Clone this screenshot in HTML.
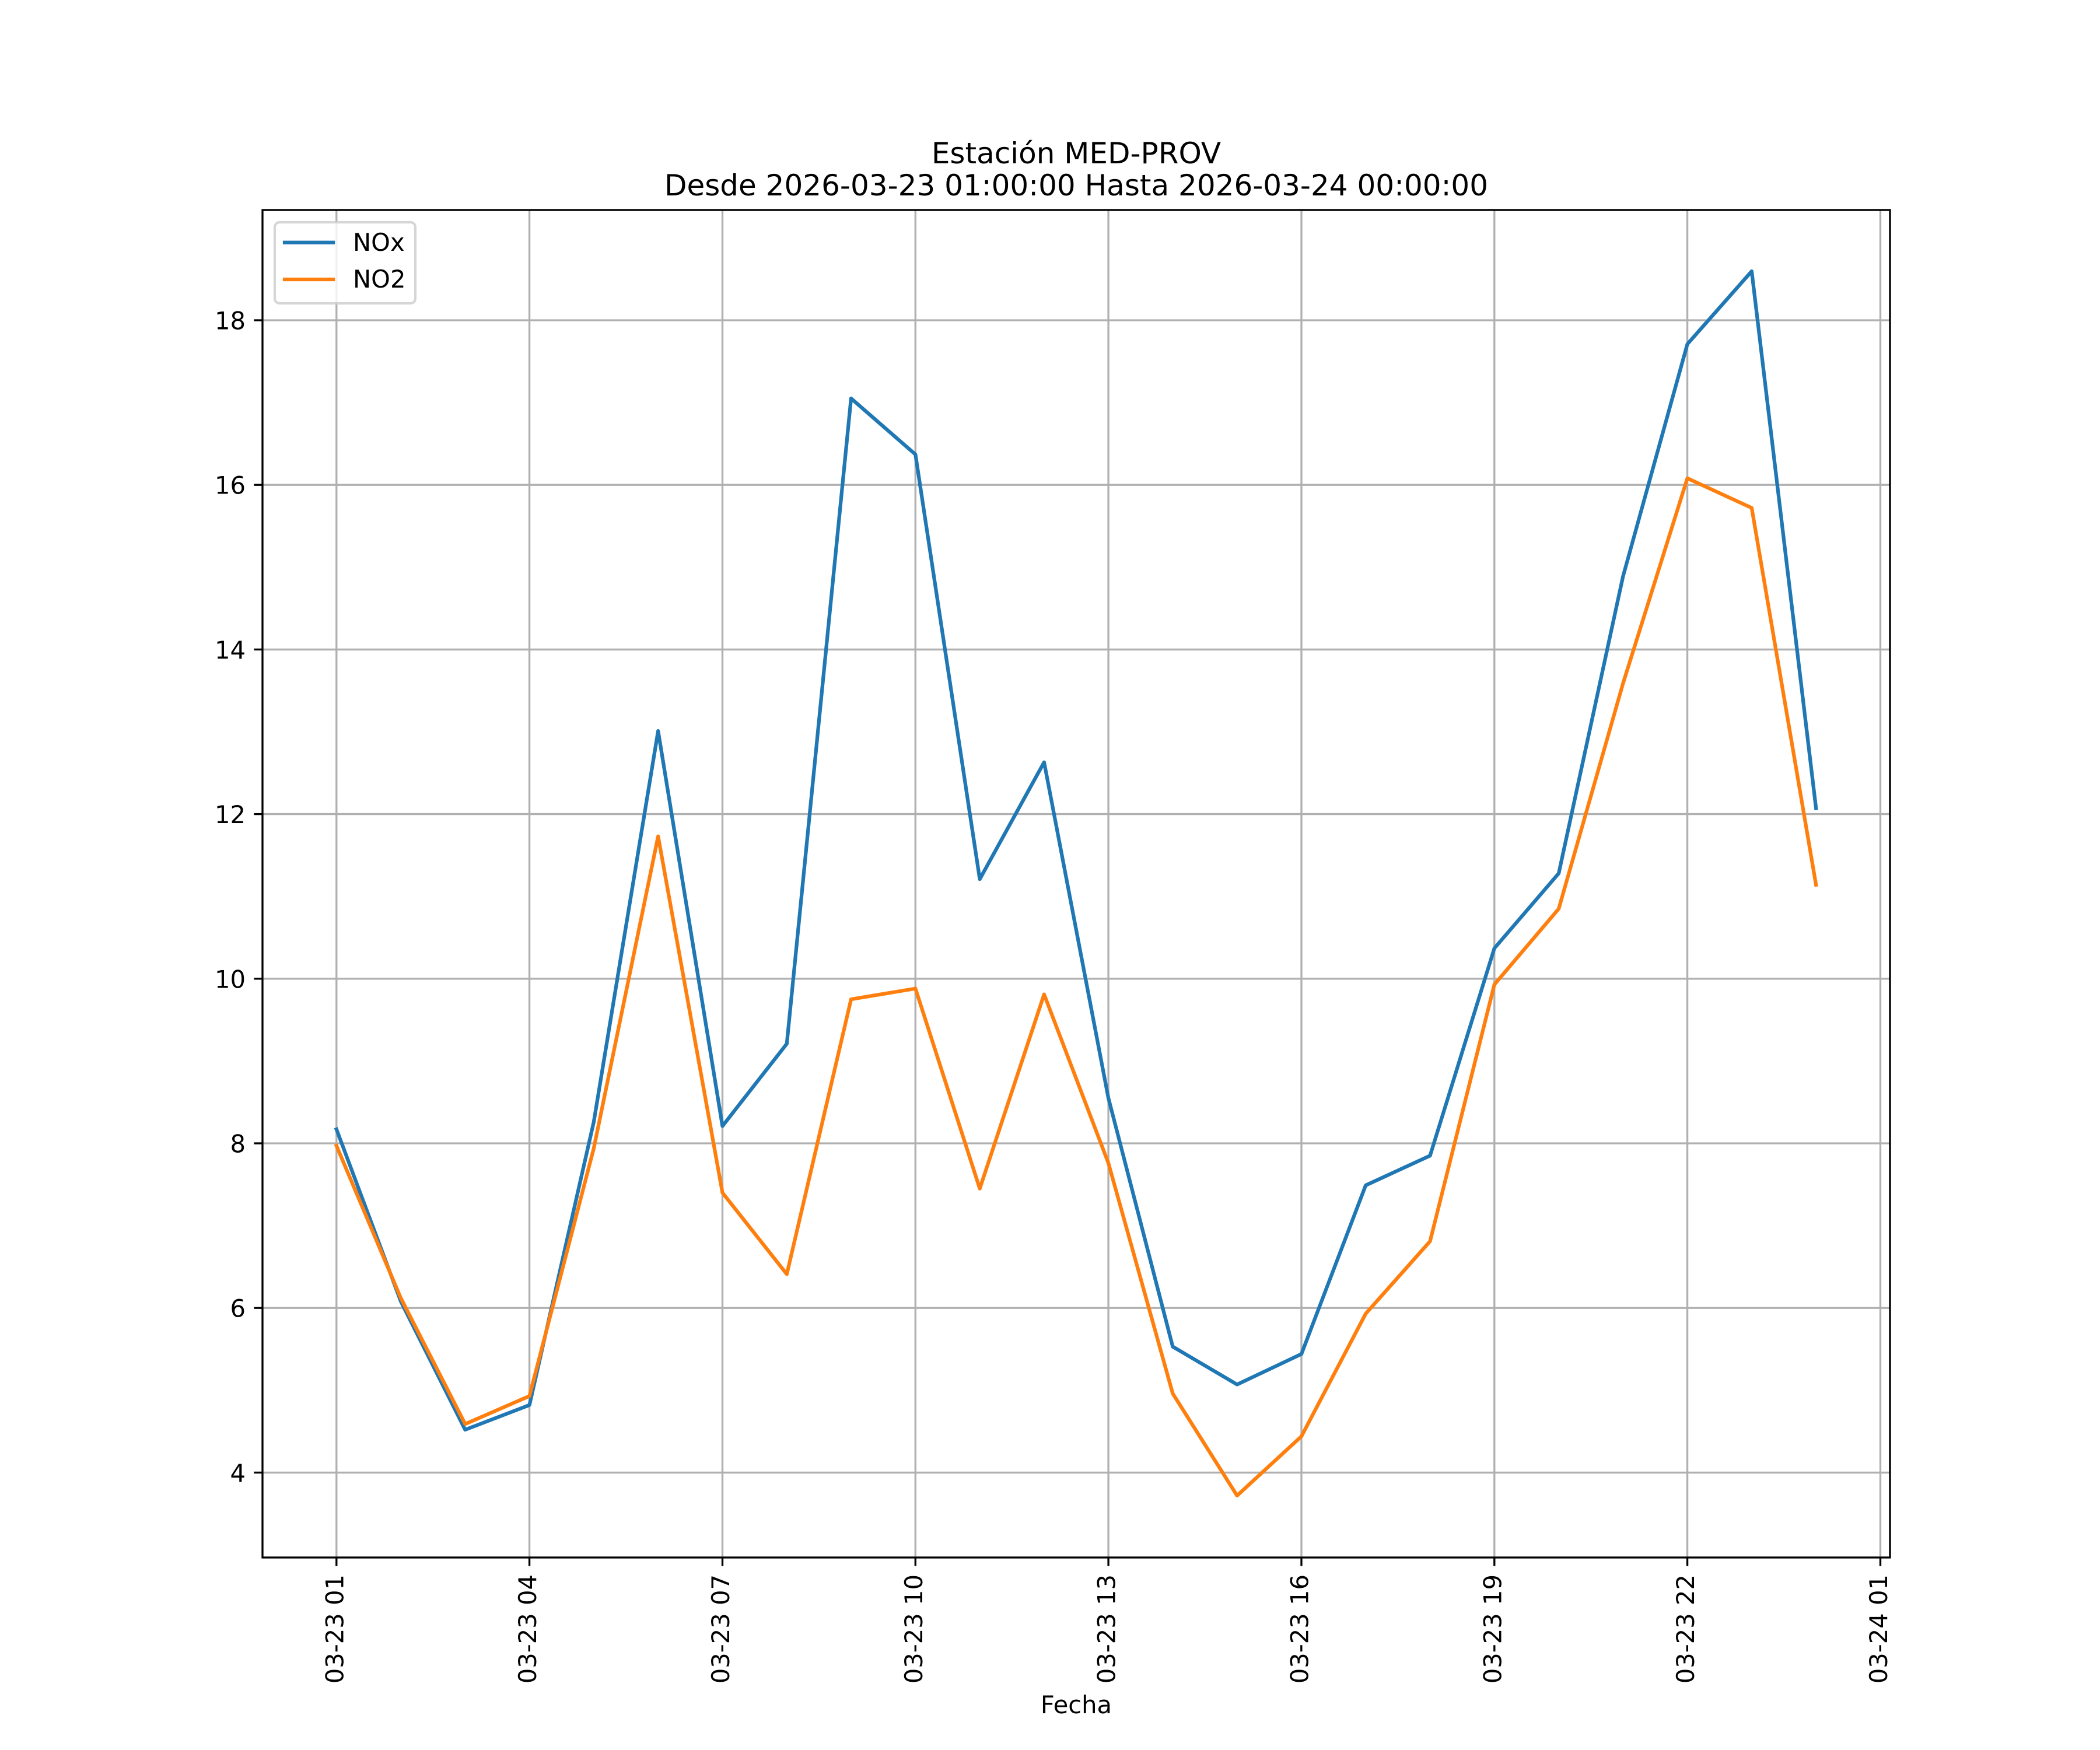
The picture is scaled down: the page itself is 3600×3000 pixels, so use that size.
<!DOCTYPE html>
<html><head><meta charset="utf-8"><style>html,body{margin:0;padding:0;background:#fff;}svg{display:block;}</style></head>
<body>
<svg xmlns="http://www.w3.org/2000/svg" width="3600" height="3000" viewBox="0 0 3600 3000" font-family="'DejaVu Sans','Liberation Sans',sans-serif">
<rect x="0" y="0" width="3600" height="3000" fill="#fff"/>
<!-- grid -->
<g stroke="#b0b0b0" stroke-width="3.33" fill="none">
<line x1="576.8" y1="360" x2="576.8" y2="2670"/>
<line x1="907.6" y1="360" x2="907.6" y2="2670"/>
<line x1="1238.5" y1="360" x2="1238.5" y2="2670"/>
<line x1="1569.3" y1="360" x2="1569.3" y2="2670"/>
<line x1="1900.1" y1="360" x2="1900.1" y2="2670"/>
<line x1="2231.0" y1="360" x2="2231.0" y2="2670"/>
<line x1="2561.8" y1="360" x2="2561.8" y2="2670"/>
<line x1="2892.6" y1="360" x2="2892.6" y2="2670"/>
<line x1="3223.5" y1="360" x2="3223.5" y2="2670"/>
<line x1="450" y1="2524.4" x2="3240" y2="2524.4"/>
<line x1="450" y1="2242.2" x2="3240" y2="2242.2"/>
<line x1="450" y1="1960.0" x2="3240" y2="1960.0"/>
<line x1="450" y1="1677.8" x2="3240" y2="1677.8"/>
<line x1="450" y1="1395.6" x2="3240" y2="1395.6"/>
<line x1="450" y1="1113.4" x2="3240" y2="1113.4"/>
<line x1="450" y1="831.2" x2="3240" y2="831.2"/>
<line x1="450" y1="549.0" x2="3240" y2="549.0"/>
</g>
<!-- series -->
<polyline fill="none" stroke="#1f77b4" stroke-width="6.25" stroke-linejoin="round" stroke-linecap="square" points="576.8,1936.0 687.1,2230.9 797.4,2451.0 907.6,2408.7 1017.9,1923.3 1128.2,1253.1 1238.5,1930.4 1348.8,1789.3 1459.0,683.0 1569.3,779.0 1679.6,1507.1 1789.9,1306.7 1900.1,1882.4 2010.4,2308.5 2120.7,2373.4 2231.0,2321.2 2341.2,2032.0 2451.5,1981.2 2561.8,1625.6 2672.1,1497.2 2782.4,987.8 2892.6,589.9 3002.9,465.0 3113.2,1385.7"/>
<polyline fill="none" stroke="#ff7f0e" stroke-width="6.25" stroke-linejoin="round" stroke-linecap="square" points="576.8,1964.2 687.1,2225.3 797.4,2441.2 907.6,2393.2 1017.9,1968.5 1128.2,1433.7 1238.5,2044.7 1348.8,2184.3 1459.0,1713.1 1569.3,1694.7 1679.6,2037.6 1789.9,1704.6 1900.1,1993.9 2010.4,2388.9 2120.7,2563.9 2231.0,2462.3 2341.2,2252.1 2451.5,2127.9 2561.8,1687.7 2672.1,1557.9 2782.4,1171.3 2892.6,819.9 3002.9,870.7 3113.2,1516.9"/>
<!-- spines -->
<rect x="450" y="360" width="2790" height="2310" fill="none" stroke="#000" stroke-width="3.33" stroke-linejoin="miter"/>
<!-- ticks -->
<g stroke="#000" stroke-width="3.33">
<line x1="576.8" y1="2670" x2="576.8" y2="2684.6"/>
<line x1="907.6" y1="2670" x2="907.6" y2="2684.6"/>
<line x1="1238.5" y1="2670" x2="1238.5" y2="2684.6"/>
<line x1="1569.3" y1="2670" x2="1569.3" y2="2684.6"/>
<line x1="1900.1" y1="2670" x2="1900.1" y2="2684.6"/>
<line x1="2231.0" y1="2670" x2="2231.0" y2="2684.6"/>
<line x1="2561.8" y1="2670" x2="2561.8" y2="2684.6"/>
<line x1="2892.6" y1="2670" x2="2892.6" y2="2684.6"/>
<line x1="3223.5" y1="2670" x2="3223.5" y2="2684.6"/>
<line x1="435.4" y1="2524.4" x2="450" y2="2524.4"/>
<line x1="435.4" y1="2242.2" x2="450" y2="2242.2"/>
<line x1="435.4" y1="1960.0" x2="450" y2="1960.0"/>
<line x1="435.4" y1="1677.8" x2="450" y2="1677.8"/>
<line x1="435.4" y1="1395.6" x2="450" y2="1395.6"/>
<line x1="435.4" y1="1113.4" x2="450" y2="1113.4"/>
<line x1="435.4" y1="831.2" x2="450" y2="831.2"/>
<line x1="435.4" y1="549.0" x2="450" y2="549.0"/>
</g>
<!-- y tick labels -->
<g font-size="41.67" fill="#000" text-anchor="end">
<text x="421" y="2540">4</text>
<text x="421" y="2257.7">6</text>
<text x="421" y="1975.5">8</text>
<text x="421" y="1693.3">10</text>
<text x="421" y="1411.1">12</text>
<text x="421" y="1128.9">14</text>
<text x="421" y="846.7">16</text>
<text x="421" y="564.5">18</text>
</g>
<!-- x tick labels -->
<g font-size="41.67" fill="#000" text-anchor="end">
<text transform="translate(588.3,2699) rotate(-90)">03-23 01</text>
<text transform="translate(919.1,2699) rotate(-90)">03-23 04</text>
<text transform="translate(1250,2699) rotate(-90)">03-23 07</text>
<text transform="translate(1580.8,2699) rotate(-90)">03-23 10</text>
<text transform="translate(1911.6,2699) rotate(-90)">03-23 13</text>
<text transform="translate(2242.5,2699) rotate(-90)">03-23 16</text>
<text transform="translate(2573.3,2699) rotate(-90)">03-23 19</text>
<text transform="translate(2904.1,2699) rotate(-90)">03-23 22</text>
<text transform="translate(3235,2699) rotate(-90)">03-24 01</text>
</g>
<!-- axis label -->
<text x="1845" y="2937" font-size="41.67" text-anchor="middle" fill="#000">Fecha</text>
<!-- title -->
<text x="1845" y="280" font-size="50" text-anchor="middle" fill="#000">Estación MED-PROV</text>
<text x="1845" y="335" font-size="50" text-anchor="middle" fill="#000">Desde 2026-03-23 01:00:00 Hasta 2026-03-24 00:00:00</text>
<!-- legend -->
<rect x="471" y="381" width="241" height="139" rx="8.3" ry="8.3" fill="#fff" fill-opacity="0.8" stroke="#cccccc" stroke-opacity="0.8" stroke-width="4.17"/>
<line x1="488" y1="415.7" x2="571" y2="415.7" stroke="#1f77b4" stroke-width="6.25" stroke-linecap="square"/>
<line x1="488" y1="479" x2="571" y2="479" stroke="#ff7f0e" stroke-width="6.25" stroke-linecap="square"/>
<text x="605" y="430" font-size="41.67" fill="#000">NOx</text>
<text x="605" y="493" font-size="41.67" fill="#000">NO2</text>
</svg>
</body></html>
